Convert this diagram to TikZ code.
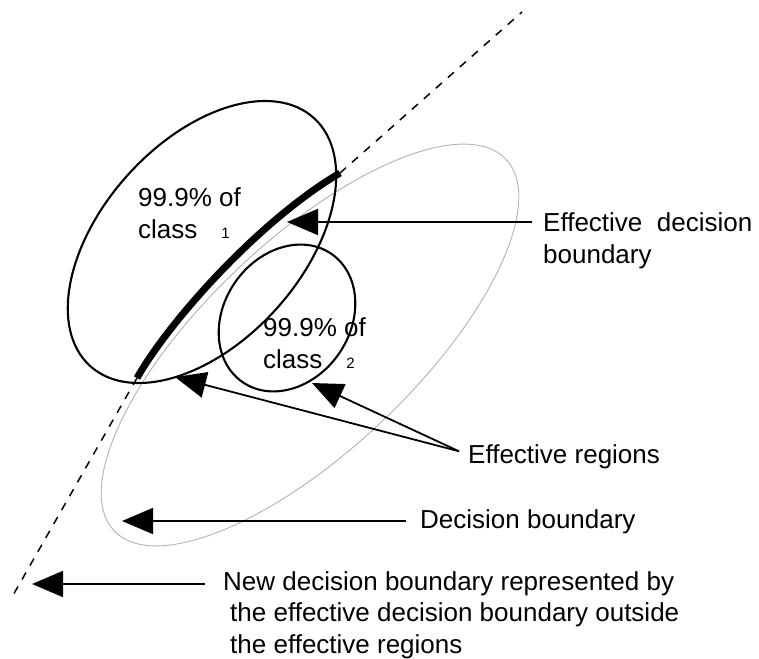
\documentclass[tikz,border=0pt]{standalone}
\usepackage{fontspec}
\setmainfont{Liberation Sans}
\usetikzlibrary{arrows.meta,positioning}

\newcommand{\classno}[1]{\hspace{24pt}{\fontsize{15}{15}\selectfont #1}}

\begin{document}
\begin{tikzpicture}[
    x=1pt, y=-1pt,
    font=\fontsize{26}{31.5}\selectfont,
    txt/.style={inner sep=0pt, anchor=base west, align=left},
    region/.style={line width=2.1pt},
    pointer/.style={-{Triangle[length=31pt,width=26pt]}, line width=1.8pt}
]
    \useasboundingbox (0,0) rectangle (759,658);

    \coordinate (cbig) at (310,345);
    \coordinate (cone) at (202,242);
    \coordinate (ctwo) at (287,318);
    \coordinate (bhi) at (340,173);
    \coordinate (blo) at (137,378);
    \coordinate (dtop) at (522,12);
    \coordinate (dbot) at (12,597);

    \draw[gray!60, line width=0.9pt, rotate around={43.5:(cbig)}] (cbig) ellipse [x radius=270pt, y radius=105pt];
    \draw[region, rotate around={48:(cone)}] (cone) ellipse [x radius=167pt, y radius=100pt];
    \draw[region, rotate around={55:(ctwo)}] (ctwo) ellipse [x radius=78pt, y radius=63pt];

    \draw[line width=7pt] (blo) .. controls (170,320) and (260,220) .. (bhi);
    \draw[dashed, line width=1.5pt, dash pattern=on 8pt off 8pt] (bhi) -- (dtop);
    \draw[dashed, line width=1.5pt, dash pattern=on 8pt off 8pt] (blo) -- (dbot);

    \node[txt] (cls1) at (138,238) {99.9\% of\\class\classno{1}};
    \node[txt] (cls2) at (263,368) {99.9\% of\\class\classno{2}};

    \node[txt] (effdb) at (543,263) {Effective\ \ decision\\boundary};
    \node[txt] (effreg) at (468,463) {Effective regions};
    \node[txt] (decb) at (420,528) {Decision boundary};
    \node[txt] (newdb) at (223,653) {New decision boundary represented by\\\hspace*{7pt}the effective decision boundary outside\\\hspace*{7pt}the effective regions};

    \coordinate (tipdb) at (287,222);
    \coordinate (tipa) at (175,377);
    \coordinate (tipb) at (312,383);
    \coordinate (tipdec) at (122,521);
    \coordinate (tipnew) at (32,584);
    \coordinate (regsrc) at ([xshift=-9pt,yshift=5pt]effreg.west);

    \draw[pointer, shorten <=11pt] (effdb.west |- tipdb) -- (tipdb);
    \draw[pointer] (regsrc) -- (tipa);
    \draw[pointer] (regsrc) -- (tipb);
    \draw[pointer, shorten <=14pt] (decb.west |- tipdec) -- (tipdec);
    \draw[pointer, shorten <=18pt] (newdb.west |- tipnew) -- (tipnew);
\end{tikzpicture}
\end{document}
